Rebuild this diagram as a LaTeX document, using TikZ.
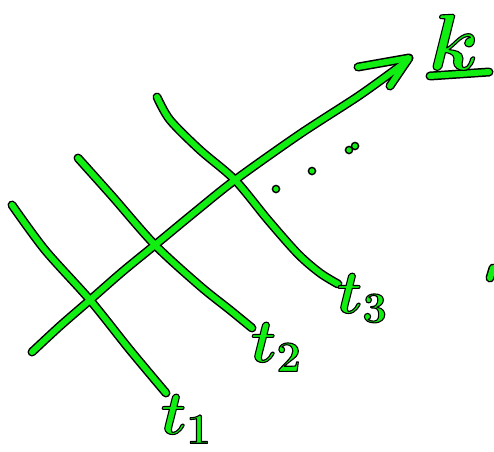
\documentclass[tikz,border=0pt]{standalone}
\usepackage{fix-cm}
\definecolor{sk}{HTML}{11EE11}
\newcommand\outlined[1]{\special{pdf:literal direct 2 Tr 1.1 w 1 j 0 0 0 RG}#1\special{pdf:literal direct 0 Tr}}
\begin{document}
\begin{tikzpicture}[x=1pt,y=-1pt,
  outl/.style={draw=black,line width=9pt,line cap=round,line join=round},
  inner/.style={draw=sk,line width=6pt,line cap=round,line join=round},
  dotst/.style={fill=sk,draw=black,line width=1.4pt},
  lbl/.style={text=sk,inner sep=0pt,font=\fontsize{62}{62}\selectfont\boldmath}]
\useasboundingbox (0,0) rectangle (494,451);
\foreach \st in {outl,inner}{
  % main arrow
  \draw[\st] plot[smooth,tension=0.5] coordinates {(32,352) (60,326) (90,300) (122,272) (155,245) (195,212) (235,180) (300,134) (360,95) (407,61)};
  \draw[\st] (358,67) -- (409,58) -- (390,86);
  % t1 line
  \draw[\st] plot[smooth,tension=0.5] coordinates {(12,205) (45,250) (90,300) (130,350) (166,393)};
  % t2 line
  \draw[\st] plot[smooth,tension=0.5] coordinates {(78,158) (112,196) (155,245) (200,286) (230,310) (252,328)};
  % t3 line
  \draw[\st] plot[smooth,tension=0.5] coordinates {(157,97) (170,120) (200,150) (235,180) (268,220) (298,254) (320,273) (338,284)};
  % k underline
  \draw[\st] (430,76) -- (489,72);
  % edge mark
  \draw[\st] (490,278) -- (493,268);
}
% dots
\filldraw[dotst] (276,189) circle (3.6);
\filldraw[dotst] (312,171) circle (3.6);
\filldraw[dotst] (349,150) circle (3.6);
\filldraw[dotst] (355,146) circle (3.6);
% labels
\node[lbl] (l1) at (186,419) {\outlined{$t_1$}};
\node[lbl] (l2) at (276,347) {\outlined{$t_2$}};
\node[lbl] (l3) at (362,298) {\outlined{$t_3$}};
\node[lbl,font=\fontsize{80}{80}\selectfont\boldmath] (lk) at (454,42) {\outlined{$k$}};
\end{tikzpicture}
\end{document}
